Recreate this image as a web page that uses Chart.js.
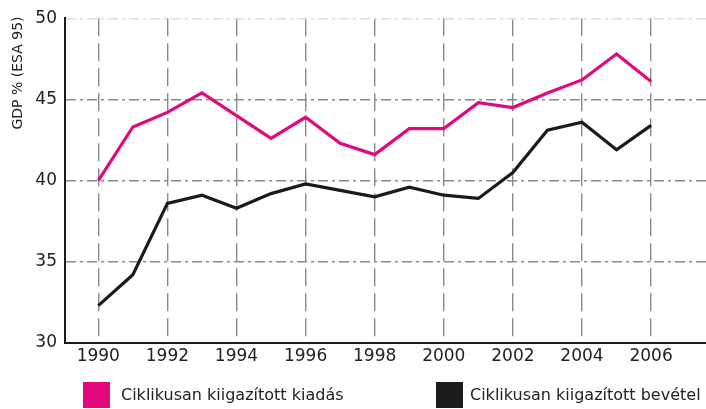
<!DOCTYPE html>
<html>
<head>
<meta charset="utf-8">
<script src="https://cdn.jsdelivr.net/npm/chart.js@4/dist/chart.umd.min.js"></script>
<style>
html,body{margin:0;padding:0;background:#fff;}
#wrap{width:706px;height:409px;position:relative;}
</style>
</head>
<body>
<div id="wrap"><canvas id="c" width="706" height="409"></canvas></div>
<script>
const years = [1990,1991,1992,1993,1994,1995,1996,1997,1998,1999,2000,2001,2002,2003,2004,2005,2006];
const kiadas = [40.0,43.3,44.2,45.4,44.0,42.6,43.9,42.3,41.6,43.2,43.2,44.8,44.5,45.4,46.2,47.8,46.1];
const bevetel = [32.3,34.2,38.6,39.1,38.3,39.2,39.8,39.4,39.0,39.6,39.1,38.9,40.5,43.1,43.6,41.9,43.4];
const xTicks = [1990,1992,1994,1996,1998,2000,2002,2004,2006];
const yTicks = [30,35,40,45,50];
const seriesLabels = ['Ciklikusan kiigazított kiadás','Ciklikusan kiigazított bevétel'];
const yTitle = 'GDP % (ESA 95)';

const FONT = '"DejaVu Sans", sans-serif';

const extras = {
  id: 'extras',
  afterDraw(chart) {
    const ctx = chart.ctx;
    ctx.save();
    // y axis title
    ctx.translate(18, 73);
    ctx.rotate(-Math.PI/2);
    ctx.font = '14px ' + FONT;
    ctx.fillStyle = '#222';
    ctx.textAlign = 'center';
    ctx.textBaseline = 'middle';
    ctx.fillText(yTitle, 0, 0);
    ctx.restore();
    // legend
    const pos = [{sx:83, tx:121},{sx:436, tx:470}];
    chart.data.datasets.forEach((ds, i) => {
      ctx.save();
      ctx.fillStyle = ds.borderColor;
      ctx.fillRect(pos[i].sx, 382, 27, 26);
      ctx.font = '16px ' + FONT;
      ctx.fillStyle = '#222';
      ctx.textAlign = 'left';
      ctx.textBaseline = 'middle';
      ctx.fillText(ds.label, pos[i].tx, 396);
      ctx.restore();
    });
  }
};

new Chart(document.getElementById('c'), {
  type: 'line',
  data: {
    datasets: [
      {label: seriesLabels[0], data: years.map((y,i)=>({x:y,y:kiadas[i]})), borderColor:'#e2097f', backgroundColor:'#e2097f', borderWidth:3.2, pointRadius:0, tension:0},
      {label: seriesLabels[1], data: years.map((y,i)=>({x:y,y:bevetel[i]})), borderColor:'#1b1b1b', backgroundColor:'#1b1b1b', borderWidth:3.2, pointRadius:0, tension:0}
    ]
  },
  plugins: [extras],
  options: {
    responsive: false,
    animation: false,
    layout: {padding: {top: 15, right: 0, bottom: 0, left: 0}},
    plugins: {legend: {display: false}, tooltip: {enabled: false}},
    scales: {
      x: {
        type: 'linear',
        min: 1989.036,
        max: 2007.59,
        afterBuildTicks: s => { s.ticks = xTicks.map(v => ({value: v})); },
        afterFit: s => { s.height = 66; },
        ticks: {
          callback: v => String(v),
          font: {family: FONT, size: 17},
          color: '#222',
          padding: 3,
          maxRotation: 0,
          autoSkip: false
        },
        grid: {color: '#8a8a8a', lineWidth: 1.4, drawTicks: false},
        border: {color: '#1b1b1b', width: 2, dash: [18, 7]}
      },
      y: {
        min: 30,
        max: 50,
        afterBuildTicks: s => { s.ticks = yTicks.map(v => ({value: v})); },
        afterFit: s => { s.width = 65; },
        ticks: {
          font: {family: FONT, size: 17},
          color: '#222',
          padding: 8
        },
        grid: {
          color: c => (c.tick && c.tick.value === 50) ? '#dddddd' : '#8a8a8a',
          lineWidth: 1.4,
          drawTicks: false
        },
        border: {color: '#1b1b1b', width: 2, dash: [10, 4, 3, 4]}
      }
    }
  }
});
</script>
</body>
</html>
